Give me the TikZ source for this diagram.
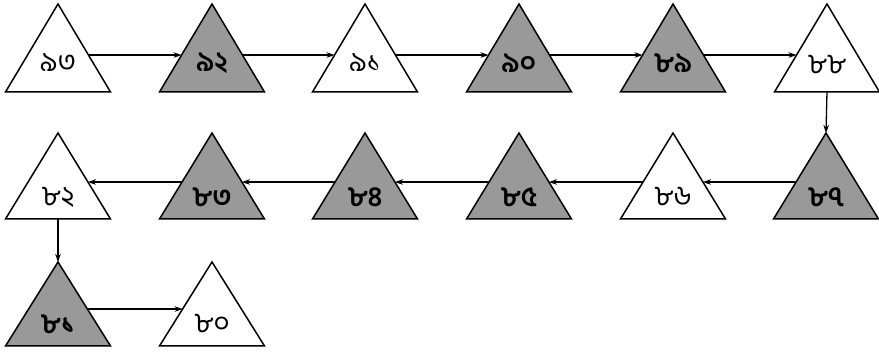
\documentclass[tikz,border=0pt]{standalone}
\usepackage{fontspec}
\newfontfamily\bn[Script=Bengali]{Hind Siliguri}
\usetikzlibrary{calc,arrows.meta}
\tikzset{
  box/.style={minimum width=105pt, inner sep=0pt, outer sep=0pt},
  tri/.style={draw=black, line width=1.5pt, line join=miter},
  wt/.style={fill=white},
  gr/.style={fill=black!40},
  wtnum/.style={inner sep=0pt, font=\bn\fontsize{28}{32}\selectfont},
  grnum/.style={inner sep=0pt, font=\bn\bfseries\fontsize{28}{32}\selectfont},
  arr/.style={line width=1.3pt, -{Stealth[length=8pt,width=5.5pt]}},
}
\newcommand\mktri[7]{%
  \node[box, minimum height={#4-#3}] (#1) at (#2,{(#3+#4)/2}) {};
  \draw[tri,#5] (#1.north) -- (#1.south east) -- (#1.south west) -- cycle;
  \node[#5num] (#1l) at ($(#1.south)+(0,-#7)$) {#6};
}
\begin{document}
\begin{tikzpicture}[x=1pt,y=-1pt]
\useasboundingbox (0,0) rectangle (879,352);
% row 1
\mktri{t1}{58}{4}{92}{wt}{৯৩}{29}
\mktri{t2}{212}{4}{92}{gr}{৯২}{29}
\mktri{t3}{365}{4}{92}{wt}{৯১}{29}
\mktri{t4}{519}{4}{92}{gr}{৯০}{29}
\mktri{t5}{673}{4}{92}{gr}{৮৯}{29}
\mktri{t6}{827}{4}{92}{wt}{৮৮}{27}
% row 2
\mktri{t7}{826}{133}{219}{gr}{৮৭}{22}
\mktri{t8}{673}{133}{219}{wt}{৮৬}{22}
\mktri{t9}{519}{133}{219}{gr}{৮৫}{22}
\mktri{t10}{365}{133}{219}{gr}{৮৪}{22}
\mktri{t11}{212}{133}{219}{gr}{৮৩}{22}
\mktri{t12}{58}{133}{219}{wt}{৮২}{22}
% row 3
\mktri{t13}{58}{262}{346}{gr}{৮১}{22}
\mktri{t14}{212}{262}{346}{wt}{৮০}{22}
% connectors row 1
\foreach \a/\b in {t1/t2,t2/t3,t3/t4,t4/t5,t5/t6}
  \draw[arr] ($(\a.north)!0.58!(\a.south east)$) -- ($(\b.north)!0.58!(\b.south west)$);
\draw[arr] (t6.south) -- (t7.north);
\foreach \a/\b in {t7/t8,t8/t9,t9/t10,t10/t11,t11/t12}
  \draw[arr] ($(\a.north)!0.57!(\a.south west)$) -- ($(\b.north)!0.57!(\b.south east)$);
\draw[arr] (t12.south) -- (t13.north);
\draw[arr] ($(t13.north)!0.56!(t13.south east)$) -- ($(t14.north)!0.56!(t14.south west)$);
\end{tikzpicture}
\end{document}
